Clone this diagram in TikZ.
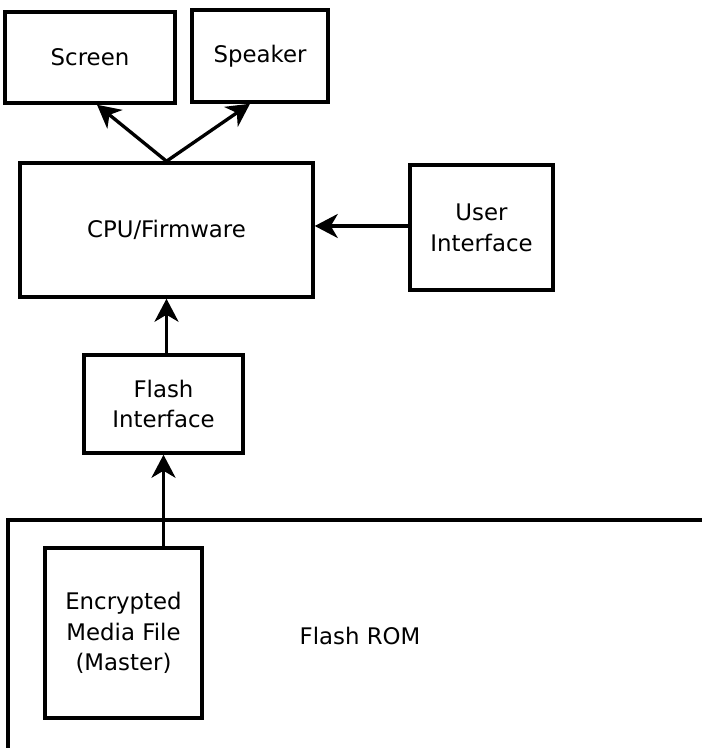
\documentclass[tikz,border=0pt]{standalone}
\usepackage{fontspec}
\setmainfont{DejaVu Sans}
\usetikzlibrary{arrows.meta}
\tikzset{
    box/.style={draw, line width=2pt, align=center, inner sep=0pt},
    arr/.style={line width=1.9pt, -{Stealth[length=0.46cm, width=0.48cm, inset=0.14cm]}}
}

\begin{document}
\begin{tikzpicture}[font=\fontsize{13}{17.5}\selectfont]
        \useasboundingbox (0, 0) rectangle (14.04, 14.96);
        \node[box, minimum width=3.4cm, minimum height=1.82cm] (scr) at (1.8, 13.81) {Screen};
        \node[box, minimum width=2.72cm, minimum height=1.84cm] (spk) at (5.2, 13.84) {Speaker};
        \node[box, minimum width=5.86cm, minimum height=2.68cm] (cpu) at (3.33, 10.36) {CPU/Firmware};
        \node[box, minimum width=2.86cm, minimum height=2.5cm] (ui) at (9.63, 10.41) {User\\Interface};
        \node[box, minimum width=3.18cm, minimum height=1.96cm] (fi) at (3.27, 6.88) {Flash\\Interface};
        \node[box, minimum width=3.14cm, minimum height=3.4cm] (emf) at (2.47, 2.3) {Encrypted\\Media File\\(Master)};
        \node (rom) at (7.2, 2.24) {Flash ROM};
        \draw[line width=2pt] (0.16, 0) -- (0.16, 4.56) -- (14.04, 4.56);
        \draw[arr] (cpu.north) -- ([xshift=0.14cm]scr.south);
        \draw[arr] (cpu.north) -- ([xshift=-0.2cm]spk.south);
        \draw[arr] (ui.west |- 0, 10.44) -- (cpu.east |- 0, 10.44);
        \draw[arr] (fi.north -| cpu.north) -- (cpu.south);
        \draw[arr] ([xshift=0.8cm]emf.north) -- ([xshift=0.8cm]emf.north |- fi.south);
    \end{tikzpicture}
\end{document}
